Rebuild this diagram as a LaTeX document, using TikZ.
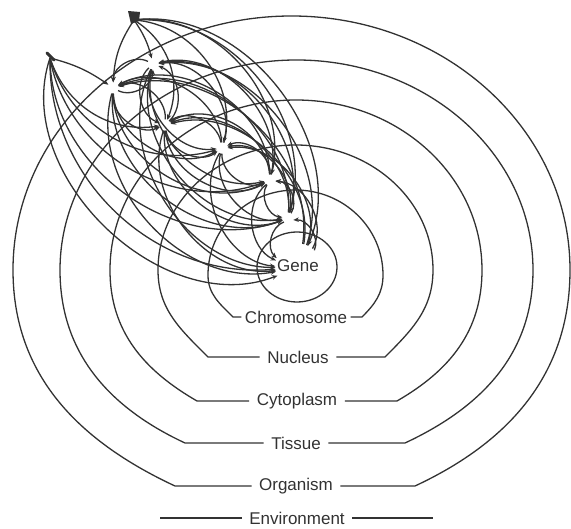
\documentclass[tikz,border=0pt]{standalone}
\usepackage{fontspec}
\setmainfont{Liberation Sans}
\usetikzlibrary{arrows.meta}
\definecolor{ink}{RGB}{50,50,50}
\begin{document}
\begin{tikzpicture}[x=1pt,y=-1pt,
  line width=1.3pt, color=ink,
  lbl/.style={font=\fontsize{17}{19}\selectfont, inner xsep=7pt, inner ysep=2pt},
  hub/.style={circle, minimum size=10pt, inner sep=0pt},
  vbl/.style={bend left=#1}, vbr/.style={bend right=#1},
  arr/.style={-{Stealth[length=5.5pt,width=4.5pt]}}]
\useasboundingbox (0,0) rectangle (571,529);

% labels
\node[circle, minimum size=44pt, inner sep=0pt, font=\fontsize{17}{19}\selectfont] (G) at (298,266) {Gene};
\node[lbl, inner xsep=3pt] (chr) at (296,317) {Chromosome};
\node[lbl] (nuc) at (298,357) {Nucleus};
\node[lbl] (cyt) at (297,401) {Cytoplasm};
\node[lbl] (tis) at (296,443) {Tissue};
\node[lbl] (org) at (296,486) {Organism};
\node[lbl] (env) at (297,518) {Environment};

% loops
\draw (297,267) ellipse[x radius=40, y radius=35];
\draw (chr.west) -- (233,317) to[out=135,in=270] (208,275)
  arc[start angle=180,end angle=360,x radius=87.5,y radius=85]
  to[out=270,in=45] (362,317) -- (chr.east);
\draw (nuc.west) -- (208,357) to[out=135,in=270] (158,270)
  arc[start angle=180,end angle=360,x radius=137.5,y radius=125]
  to[out=270,in=45] (385,357) -- (nuc.east);
\draw (cyt.west) -- (197,401) to[out=150,in=270] (110,270)
  arc[start angle=180,end angle=360,x radius=186,y radius=170]
  to[out=270,in=30] (397,401) -- (cyt.east);
\draw (tis.west) -- (185,443) to[out=155,in=270] (60,270)
  arc[start angle=180,end angle=360,x radius=236.5,y radius=210]
  to[out=270,in=25] (405,443) -- (tis.east);
\draw (org.west) -- (175,486) to[out=155,in=270] (13,270)
  arc[start angle=180,end angle=360,x radius=278.5,y radius=254]
  to[out=270,in=25] (415,486) -- (org.east);
\draw (env.west) -- (160,518);
\draw (env.east) -- (433,518);

% tips and hubs
\coordinate (T1) at (134,20);
\coordinate (T2) at (50,58);
\fill (128,11) -- (140,12) -- (139,21) -- (131,24) -- cycle;
\draw[line width=3pt, line cap=round] (47,53) -- (54,60);
\node[hub] (A) at (113,88) {};
\node[hub] (B) at (153,64) {};
\node[hub] (C) at (165,125) {};
\node[hub] (D) at (222,148) {};
\node[hub] (E) at (270,180) {};
\node[hub] (F) at (288,218) {};

% fan from T2
\draw[arr] (T2) to[vbl=10] (A);
\draw[arr] (T2) to[vbr=40] (C);
\draw[arr] (T2) to[vbr=45] (D);
\draw[arr] (T2) to[vbr=50] (E);
\draw[arr] (T2) to[vbr=55] (F);
\draw[arr] (T2) to[vbr=48] (G);
\draw[arr] (T2) to[vbr=65] (G);
% fan from T1
\draw[arr] (T1) to[vbr=15] (A);
\draw[arr] (T1) to[vbl=10] (B);
\draw[arr] (T1) to[vbl=40] (C);
\draw[arr] (T1) to[vbl=50] (D);
\draw[arr] (T1) to[vbl=55] (E);
\draw[arr] (T1) to[vbl=55] (F);
\draw[arr] (T1) to[vbl=60] (G);
% lenses between hubs
\foreach \a/\b in {B/A, B/C, B/D, B/E, B/F, B/G, A/C, A/D, A/E, A/F, A/G,
  C/D, C/E, C/F, C/G, D/E, D/F, D/G, E/F, E/G, F/G}{
  \draw[arr] (\a) to[vbr=58] (\b);
  \draw[arr] (\b) to[vbr=58] (\a);
}
\end{tikzpicture}
\end{document}
